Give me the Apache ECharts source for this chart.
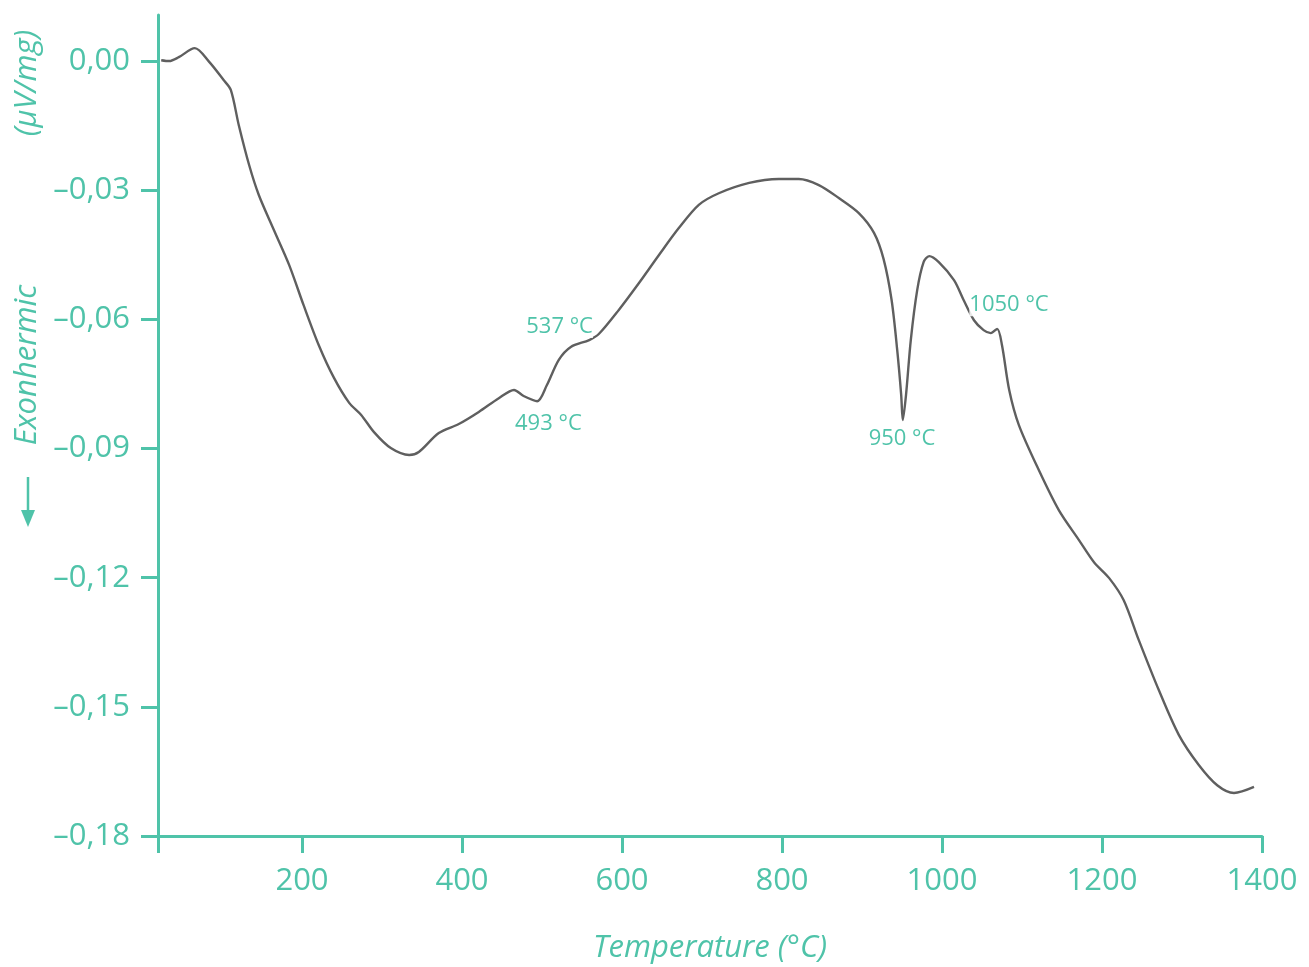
<!DOCTYPE html>
<html>
<head>
<meta charset="utf-8">
<script src="https://cdn.jsdelivr.net/npm/echarts@6/dist/echarts.min.js"></script>
<style>
html,body{margin:0;padding:0;background:#fff;}
#chart{width:1309px;height:967px;}
</style>
</head>
<body>
<div id="chart"></div>
<script>
// Temperature (°C)
var temperatures = [24,34,46,66,84,102,111,121,134,146,165,184,202,221,240,259,274,290,311,334,346,371,396,421,446,465,477,494,506,521,536,559,571,596,621,646,671,696,721,759,796,821,846,871,896,915,927,937,944,949,951,955,961,969,977,984,996,1015,1027,1040,1052,1061,1069,1075,1084,1096,1121,1146,1171,1190,1209,1227,1246,1271,1296,1321,1344,1365,1390];
// DTA signal (µV/mg)
var signal = [0.0002,0.0,0.0009,0.0030,-0.0002,-0.0044,-0.0067,-0.0149,-0.0242,-0.0311,-0.0393,-0.0474,-0.0567,-0.0660,-0.0736,-0.0794,-0.0822,-0.0862,-0.0899,-0.0915,-0.0908,-0.0864,-0.0843,-0.0815,-0.0783,-0.0764,-0.0778,-0.0790,-0.0753,-0.0694,-0.0664,-0.0648,-0.0634,-0.0578,-0.0516,-0.0451,-0.0388,-0.0334,-0.0307,-0.0283,-0.0274,-0.0274,-0.0288,-0.0318,-0.0353,-0.0399,-0.0460,-0.0555,-0.0671,-0.0776,-0.0834,-0.0776,-0.0648,-0.0532,-0.0467,-0.0453,-0.0467,-0.0509,-0.0555,-0.0602,-0.0625,-0.0632,-0.0622,-0.0660,-0.0764,-0.0845,-0.0950,-0.1043,-0.1112,-0.1164,-0.1201,-0.1252,-0.1345,-0.1461,-0.1565,-0.1635,-0.1682,-0.1700,-0.1686];
var xTickValues = [20,200,400,600,800,1000,1200,1400];
var xLabelValues = [200,400,600,800,1000,1200,1400];
var yTickValues = [0,-0.03,-0.06,-0.09,-0.12,-0.15,-0.18];
var annotTemps = [537,493,950,1050];
var annotSignals = [-0.0664,-0.0790,-0.0834,-0.0625];
var annotTexts = ['537 °C','493 °C','950 °C','1050 °C'];

var teal = '#4fc3a9';
var font = 'Open Sans';
var annotOffsets = [[-12,-20],[12,23],[0,19],[27,-25]];

var chart = echarts.init(document.getElementById('chart'));
var lineData = temperatures.map(function(t,i){return [t, signal[i]];});
var markData = annotTemps.map(function(t,i){
  return {coord:[t, annotSignals[i]], value: annotTexts[i],
    label:{offset: annotOffsets[i]}};
});

chart.setOption({
  animation:false,
  grid:{left:158,right:47,top:15,bottom:131,outerBoundsMode:'none',containLabel:false},
  xAxis:{
    type:'value', min:20, max:1400,
    name:'Temperature (°C)', nameLocation:'middle', nameGap:97,
    nameTextStyle:{color:teal,fontSize:31,fontStyle:'italic',fontFamily:font},
    axisLine:{show:true,onZero:false,lineStyle:{color:teal,width:3}},
    axisTick:{show:true,length:17,lineStyle:{color:teal,width:3},customValues:xTickValues},
    axisLabel:{color:teal,fontSize:31,fontFamily:font,margin:30,customValues:xLabelValues,
      formatter:function(v){return String(v);}},
    splitLine:{show:false}
  },
  yAxis:{
    type:'value', min:-0.18, max:0.0107,
    axisLine:{show:true,onZero:false,lineStyle:{color:teal,width:3}},
    axisTick:{show:true,length:17,lineStyle:{color:teal,width:3},customValues:yTickValues},
    axisLabel:{color:teal,fontSize:31,fontFamily:font,margin:28,customValues:yTickValues,
      formatter:function(v){var s=Math.abs(v).toFixed(2).replace('.',',');return (v<-1e-9?'–':'')+s;}},
    splitLine:{show:false}
  },
  series:[{
    type:'line', data:lineData, smooth:0.3, symbol:'none',
    lineStyle:{color:'#5f5f5f',width:2.4},
    markPoint:{
      symbol:'circle', symbolSize:0,
      label:{show:true,position:'inside',color:teal,fontSize:22,fontFamily:font,
        backgroundColor:'rgba(255,255,255,0.85)',formatter:function(p){return p.value;}},
      data:markData
    }
  }],
  graphic:[
    {type:'text', x:27, y:83, rotation:Math.PI/2,
      style:{text:'(µV/mg)', fill:teal, fontSize:31, fontStyle:'italic', fontFamily:font, align:'center', verticalAlign:'middle'}},
    {type:'text', x:27, y:365, rotation:Math.PI/2,
      style:{text:'Exonhermic', fill:teal, fontSize:31, fontStyle:'italic', fontFamily:font, align:'center', verticalAlign:'middle'}},
    {type:'line', shape:{x1:28,y1:477,x2:28,y2:518}, style:{stroke:teal,lineWidth:2.5}},
    {type:'polygon', shape:{points:[[21,510],[35,510],[28,527]]}, style:{fill:teal}}
  ]
});
</script>
</body>
</html>
